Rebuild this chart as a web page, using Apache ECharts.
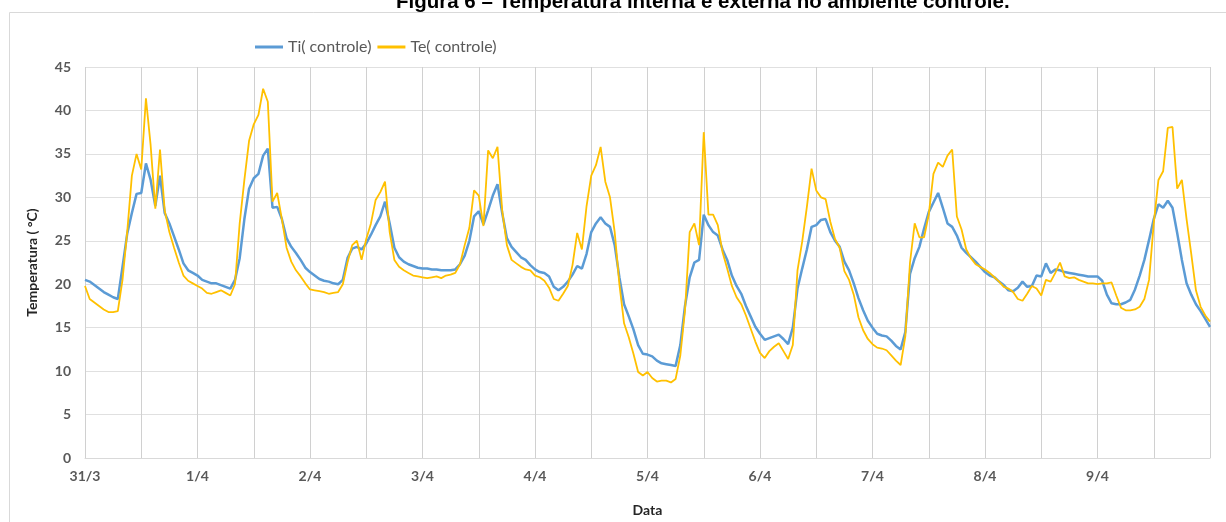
<!DOCTYPE html>
<html>
<head>
<meta charset="utf-8">
<script src="https://cdn.jsdelivr.net/npm/echarts@6/dist/echarts.min.js"></script>
<style>
  html, body { margin: 0; padding: 0; background: #fff; }
  #chart { width: 1226px; height: 522px; }
</style>
</head>
<body>
<div id="chart"></div>
<script>
// rótulos dos dias (um a cada 24 leituras horárias)
const dayLabels = ['31/3', '1/4', '2/4', '3/4', '4/4', '5/4', '6/4', '7/4', '8/4', '9/4'];

// Ti( controle) - temperatura interna, leituras horárias
const tiControle = [
  20.5, 20.3, 19.9, 19.5, 19.1, 18.8, 18.5, 18.3, 22.0, 25.8, 28.2, 30.4, 30.5, 33.9, 32.0, 29.0, 32.5, 28.2, 27.0, 25.5, 24.0, 22.4, 21.6, 21.3, // 31/3
  21.0, 20.5, 20.3, 20.1, 20.1, 19.9, 19.7, 19.5, 20.5, 23.0, 27.5, 31.0, 32.2, 32.7, 34.8, 35.6, 28.8, 28.9, 27.5, 25.3, 24.3, 23.6, 22.8, 21.9, // 1/4
  21.4, 21.0, 20.6, 20.4, 20.3, 20.1, 20.0, 20.5, 23.0, 24.1, 24.3, 24.0, 24.7, 25.7, 26.8, 27.8, 29.5, 27.0, 24.2, 23.1, 22.6, 22.3, 22.1, 21.9, // 2/4
  21.8, 21.8, 21.7, 21.7, 21.6, 21.6, 21.6, 21.7, 22.3, 23.3, 25.0, 27.8, 28.4, 26.9, 28.5, 30.2, 31.5, 28.2, 25.3, 24.3, 23.7, 23.1, 22.8, 22.2, // 3/4
  21.7, 21.4, 21.3, 20.9, 19.7, 19.3, 19.7, 20.3, 21.1, 22.1, 21.8, 23.5, 26.0, 27.0, 27.7, 27.0, 26.6, 24.5, 20.8, 17.7, 16.3, 14.8, 13.0, 12.0, // 4/4
  11.9, 11.7, 11.2, 10.9, 10.8, 10.7, 10.6, 13.0, 17.5, 20.8, 22.5, 22.8, 28.0, 26.8, 26.0, 25.6, 24.0, 22.8, 21.0, 19.8, 18.9, 17.5, 16.3, 15.1, // 5/4
  14.3, 13.6, 13.8, 14.0, 14.2, 13.7, 13.1, 15.0, 19.5, 21.8, 24.0, 26.6, 26.8, 27.4, 27.5, 26.0, 25.0, 24.3, 22.6, 21.6, 20.1, 18.4, 17.0, 15.8, // 6/4
  15.0, 14.3, 14.1, 14.0, 13.5, 12.9, 12.5, 14.5, 21.2, 23.0, 24.3, 26.4, 28.3, 29.4, 30.5, 28.8, 27.0, 26.6, 25.6, 24.2, 23.6, 23.1, 22.6, 22.0, // 7/4
  21.4, 21.0, 20.8, 20.3, 19.9, 19.3, 19.2, 19.6, 20.3, 19.7, 19.8, 21.0, 20.9, 22.4, 21.3, 21.7, 21.6, 21.4, 21.3, 21.2, 21.1, 21.0, 20.9, 20.9, // 8/4
  20.9, 20.4, 18.8, 17.8, 17.7, 17.7, 17.9, 18.2, 19.4, 21.0, 22.8, 25.1, 27.5, 29.2, 28.8, 29.6, 28.8, 25.9, 22.8, 20.1, 18.8, 17.7, 16.9, 16.0, // 9/4
  15.1
];

// Te( controle) - temperatura externa, leituras horárias
const teControle = [
  19.8, 18.3, 17.9, 17.5, 17.1, 16.8, 16.8, 16.9, 20.5, 26.0, 32.5, 35.0, 33.2, 41.4, 36.0, 28.7, 35.5, 28.5, 26.0, 24.2, 22.5, 21.0, 20.4, 20.1, // 31/3
  19.8, 19.5, 19.0, 18.9, 19.1, 19.3, 19.0, 18.7, 20.0, 27.0, 32.0, 36.5, 38.4, 39.5, 42.5, 41.0, 29.5, 30.5, 27.5, 24.2, 22.6, 21.6, 20.9, 20.1, // 1/4
  19.4, 19.3, 19.2, 19.1, 18.9, 19.0, 19.1, 20.0, 22.5, 24.5, 25.0, 22.8, 25.2, 27.0, 29.7, 30.6, 31.8, 26.0, 22.8, 22.0, 21.6, 21.3, 21.0, 20.9, // 2/4
  20.8, 20.7, 20.8, 20.9, 20.7, 21.0, 21.1, 21.3, 22.3, 24.5, 26.5, 30.8, 30.2, 26.7, 35.4, 34.5, 35.8, 28.5, 24.5, 22.8, 22.4, 22.0, 21.7, 21.6, // 3/4
  21.0, 20.8, 20.4, 19.6, 18.3, 18.1, 18.9, 19.8, 22.2, 25.9, 24.0, 29.0, 32.5, 33.7, 35.8, 31.8, 30.0, 26.0, 20.0, 15.5, 13.9, 12.0, 9.9, 9.5, // 4/4
  9.9, 9.2, 8.8, 8.9, 8.9, 8.7, 9.1, 11.8, 17.0, 26.0, 27.0, 24.5, 37.5, 28.0, 28.0, 26.8, 23.7, 21.8, 19.8, 18.5, 17.7, 16.4, 14.9, 13.4, // 5/4
  12.1, 11.5, 12.3, 12.8, 13.2, 12.3, 11.4, 13.0, 21.6, 24.9, 28.9, 33.3, 30.8, 30.0, 29.8, 27.2, 25.2, 24.2, 21.5, 20.5, 18.8, 16.2, 14.7, 13.7, // 6/4
  13.1, 12.7, 12.6, 12.4, 11.8, 11.2, 10.7, 14.0, 22.5, 27.0, 25.4, 25.4, 28.0, 32.7, 34.0, 33.5, 34.8, 35.5, 27.8, 26.3, 24.0, 23.0, 22.3, 22.0, // 7/4
  21.7, 21.3, 20.8, 20.3, 19.7, 19.5, 19.1, 18.3, 18.1, 18.9, 19.8, 19.5, 18.7, 20.5, 20.3, 21.3, 22.5, 20.9, 20.7, 20.8, 20.5, 20.3, 20.1, 20.1, // 8/4
  20.0, 20.1, 20.1, 20.2, 18.7, 17.3, 17.0, 17.0, 17.1, 17.4, 18.3, 20.5, 27.0, 32.0, 33.0, 38.0, 38.1, 31.0, 32.0, 27.5, 23.5, 19.3, 17.4, 16.4, // 9/4
  15.7
];

// uma categoria por hora; o rótulo do dia só aparece na hora 0
const hours = tiControle.map((v, i) => (dayLabels[Math.floor(i / 24)] || '') + ' ' + (i % 24) + 'h');

const chart = echarts.init(document.getElementById('chart'));
const gray = '#595959';
const font = 'Lato';

chart.setOption({
  animation: false,
  title: {
    text: 'Figura 6 – Temperatura interna e externa no ambiente controle.',
    left: 391,
    top: -13,
    textStyle: { fontFamily: 'Liberation Sans', fontSize: 20.5, fontWeight: 'bold', color: '#000' }
  },
  graphic: [{
    type: 'rect',
    z: -1,
    shape: { x: 9.5, y: 12.5, width: 1240, height: 540 },
    style: { fill: 'none', stroke: '#d9d9d9', lineWidth: 1 }
  }],
  legend: {
    left: 250,
    top: 34,
    icon: 'rect',
    itemWidth: 28,
    itemHeight: 3,
    itemGap: 6,
    textStyle: { fontFamily: font, fontSize: 16, color: gray }
  },
  grid: { left: 85, right: 16, top: 67, bottom: 64 },
  xAxis: {
    type: 'category',
    data: hours,
    boundaryGap: false,
    name: 'Data',
    nameLocation: 'middle',
    nameGap: 45,
    nameTextStyle: { fontFamily: font, fontSize: 14, fontWeight: 'bold', color: '#262626' },
    axisLine: { lineStyle: { color: '#d9d9d9' } },
    axisTick: { show: false },
    axisLabel: {
      interval: 0,
      margin: 11,
      fontFamily: font, fontSize: 14, fontWeight: 'bold', color: gray,
      formatter: (v, i) => (i % 24 === 0 ? (dayLabels[i / 24] || '') : '')
    },
    splitLine: {
      show: true,
      interval: (i) => i % 12 === 0,
      lineStyle: { color: '#d0d0d0' }
    }
  },
  yAxis: {
    type: 'value',
    min: 0,
    max: 45,
    interval: 5,
    name: 'Temperatura ( °C)',
    nameLocation: 'middle',
    nameGap: 46,
    nameTextStyle: { fontFamily: font, fontSize: 14, fontWeight: 'bold', color: '#262626' },
    axisLine: { show: false },
    axisTick: { show: false },
    axisLabel: { margin: 14, fontFamily: font, fontSize: 14, fontWeight: 'bold', color: gray },
    splitLine: { lineStyle: { color: '#e0e0e0' } }
  },
  series: [
    {
      name: 'Ti( controle)',
      type: 'line',
      data: tiControle,
      showSymbol: false,
      symbol: 'none',
      color: '#5b9bd5',
      lineStyle: { width: 2.5, color: '#5b9bd5' }
    },
    {
      name: 'Te( controle)',
      type: 'line',
      data: teControle,
      showSymbol: false,
      symbol: 'none',
      color: '#ffc000',
      lineStyle: { width: 1.8, color: '#ffc000' }
    }
  ]
});
</script>
</body>
</html>
